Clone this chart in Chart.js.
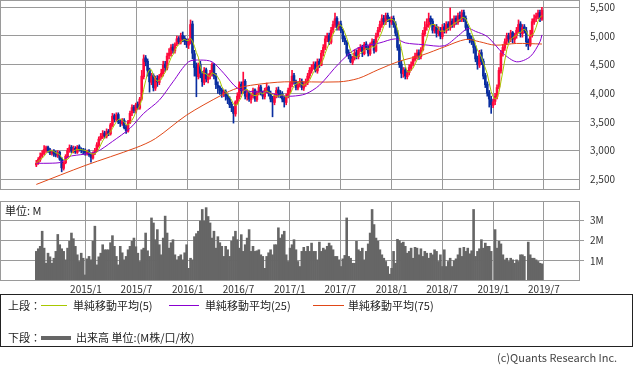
<!DOCTYPE html>
<html>
<head>
<meta charset="utf-8">
<script src="https://cdn.jsdelivr.net/npm/chart.js@4.4.1/dist/chart.umd.min.js"></script>
<style>
  body { margin: 0; width: 633px; height: 370px; background: #fff; position: relative; overflow: hidden;
         font-family: "Noto Sans CJK JP", sans-serif; color: #222; }
  #priceCanvas { position: absolute; left: 0; top: 0; }
  #volCanvas { position: absolute; left: 0; top: 199px; }
  .unit { position: absolute; left: 5px; top: 202px; font-size: 11px; }
  .legend { position: absolute; left: 0; top: 294px; width: 631px; height: 51px; border: 1px solid #222; font-size: 11px; }
  .legend span { position: absolute; white-space: nowrap; }
  .legend .ln { position: absolute; display: block; height: 0; border-top: 1px solid; }
  .copy { position: absolute; left: 497px; top: 349px; font-size: 11px; color: #444; }
</style>
</head>
<body>
<canvas id="priceCanvas" width="633" height="192"></canvas>
<canvas id="volCanvas" width="633" height="96"></canvas>
<div class="unit">単位: M</div>
<div class="legend">
  <span style="left:7px;top:2px">上段：</span>
  <div class="ln" style="left:40px;top:10px;width:26px;border-color:#a8c800"></div>
  <span style="left:72px;top:2px">単純移動平均(5)</span>
  <div class="ln" style="left:168px;top:10px;width:30px;border-color:#8a00d0"></div>
  <span style="left:204px;top:2px">単純移動平均(25)</span>
  <div class="ln" style="left:312px;top:10px;width:31px;border-color:#e04818"></div>
  <span style="left:347px;top:2px">単純移動平均(75)</span>
  <span style="left:7px;top:34px">下段：</span>
  <div class="ln" style="left:40px;top:41px;width:30px;border-top:4px solid #666"></div>
  <span style="left:75px;top:34px">出来高 単位:(M株/口/枚)</span>
</div>
<div class="copy">(c)Quants Research Inc.</div>
<script>
// weekly bars, week 0 = 2014/7/7
const startDate = Date.UTC(2014, 6, 7);
const tickLabels = ['2015/1','2015/7','2016/1','2016/7','2017/1','2017/7','2018/1','2018/7','2019/1','2019/7'];
const priceTicks = [2500, 3000, 3500, 4000, 4500, 5000, 5500];
const volTicks = [1, 2, 3];

const opens = [
  2750,2790,2840,2910,2950,3010,3060,3010,2950,2990, 2950,2910,2970,2860,2690,2790,2890,3000,3060,2980,
  3040,2970,3070,3010,3010,2990,2950,2990,2930,2870, 2960,3000,3090,3210,3240,3310,3250,3340,3290,3440,
  3610,3540,3630,3490,3470,3530,3410,3340,3490,3660, 3760,3690,3810,3740,3910,4290,4620,4560,4410,4190,
  4310,4090,4260,4190,4310,4340,4510,4440,4660,4690, 4810,4740,4860,4960,4890,5010,4960,4910,4840,4890,
  5210,4690,4460,4290,4510,4340,4190,4410,4240,4310, 4340,4510,4310,4140,4110,4060,3990,4030,3960,3910,
  3810,3740,3640,3860,3940,4160,4040,4210,3940,4010, 3890,3960,4060,3890,4010,4110,3990,3940,4060,4110,
  3990,3910,3840,3960,4060,3990,3990,3910,3840,3960, 4040,4160,4310,4190,4090,4160,4210,4090,4160,4190,
  4310,4390,4460,4510,4390,4560,4490,4710,4790,4960, 5010,4890,5110,5190,5310,5140,5210,5090,4960,4890,
  4710,4640,4540,4610,4710,4640,4760,4810,4690,4860, 4790,4690,4860,4910,4740,5010,5110,5190,5310,5240,
  5360,5290,5240,5310,5210,5040,4810,4510,4340,4410, 4290,4360,4440,4510,4590,4660,4710,4640,4760,5040,
  5160,5190,5310,5260,5090,5160,5040,5110,4990,5160, 5090,5210,5140,5260,5190,5310,5240,5360,5290,5410,
  5310,5160,5010,4940,4910,4790,4610,4490,4710,4560, 4310,4160,4010,3890,3790,3860,3940,4110,4390,4710,
  4790,4910,5010,4940,5060,4940,5010,5090,5210,5040, 5160,5090,4910,4840,5010,5240,5310,5340,5410,5290
];
const closes = [
  2780,2850,2900,2950,3020,3050,3000,2960,2980,2940, 2920,2960,2850,2700,2780,2900,3000,3050,2990,3030,
  2980,3060,3020,3000,2990,2960,2980,2930,2880,2950, 3000,3100,3200,3250,3300,3260,3330,3300,3450,3600,
  3550,3620,3500,3480,3520,3400,3350,3500,3650,3750, 3700,3800,3750,3900,4300,4600,4550,4400,4200,4300,
  4100,4250,4200,4300,4350,4500,4450,4650,4700,4800, 4750,4850,4950,4900,5000,4950,4900,4850,4900,5200,
  4700,4450,4300,4500,4350,4200,4400,4250,4300,4350, 4500,4300,4150,4100,4050,4000,4020,3950,3900,3800,
  3750,3650,3850,3950,4150,4050,4200,3950,4000,3900, 3950,4050,3900,4000,4100,4000,3950,4050,4100,4000,
  3900,3850,3950,4050,4000,3980,3900,3850,3950,4050, 4150,4300,4200,4100,4150,4200,4100,4150,4200,4300,
  4400,4450,4500,4400,4550,4500,4700,4800,4950,5000, 4900,5100,5200,5300,5150,5200,5100,4950,4900,4700,
  4650,4550,4600,4700,4650,4750,4800,4700,4850,4800, 4700,4850,4900,4750,5000,5100,5200,5300,5250,5350,
  5300,5250,5300,5200,5050,4800,4500,4350,4400,4300, 4350,4450,4500,4600,4650,4700,4650,4750,5050,5150,
  5200,5300,5250,5100,5150,5050,5100,5000,5150,5100, 5200,5150,5250,5200,5300,5250,5350,5300,5400,5300,
  5150,5000,4950,4900,4800,4600,4500,4700,4550,4300, 4150,4000,3900,3800,3850,3950,4100,4400,4700,4800,
  4900,5000,4950,5050,4950,5000,5100,5200,5050,5150, 5100,4900,4850,5000,5250,5300,5350,5400,5300,5450
];
const highs = [
  2830,2880,2960,3000,3090,3080,3080,3040,3010,3020, 2990,3000,2990,2880,2810,2930,3040,3100,3090,3080,
  3070,3090,3100,3050,3040,3030,3010,3020,2960,2980, 3040,3140,3240,3300,3350,3340,3380,3370,3480,3650,
  3640,3660,3660,3540,3560,3560,3440,3530,3690,3800, 3790,3830,3850,3930,4400,4670,4660,4600,4440,4350,
  4340,4300,4310,4330,4420,4560,4560,4700,4780,4850, 4860,4880,5000,4990,5050,5070,5000,4950,4950,5280,
  5260,4750,4530,4530,4560,4380,4450,4440,4340,4400, 4530,4520,4350,4200,4130,4090,4060,4060,3990,3940,
  3850,3770,3870,4010,4200,4200,4370,4240,4060,4040, 3990,4090,4080,4040,4140,4140,4040,4090,4180,4130,
  4040,3950,3990,4100,4110,4050,4030,3950,3990,4090, 4200,4400,4350,4230,4200,4260,4250,4200,4250,4350,
  4450,4500,4550,4550,4600,4600,4750,4850,5000,5050, 5050,5150,5260,5400,5340,5250,5260,5120,5000,4920,
  4760,4680,4650,4760,4760,4800,4850,4840,4890,4900, 4830,4880,4950,4940,5050,5150,5260,5370,5360,5400,
  5400,5330,5340,5350,5250,5100,4850,4560,4450,4450, 4400,4500,4550,4640,4700,4760,4760,4800,5100,5250,
  5300,5400,5350,5300,5200,5200,5160,5150,5200,5220, 5250,5250,5490,5300,5350,5350,5400,5420,5450,5450,
  5350,5200,5050,5000,4950,4830,4650,4750,4760,4600, 4350,4200,4050,3950,3900,4000,4150,4450,4750,4850,
  4950,5050,5050,5100,5080,5050,5150,5280,5250,5200, 5200,5150,4950,5100,5300,5370,5400,5450,5450,5500
];
const lows = [
  2720,2760,2810,2880,2930,2970,2970,2930,2920,2900, 2890,2880,2830,2630,2660,2770,2870,2970,2960,2960,
  2950,2950,2990,2960,2940,2920,2920,2900,2800,2850, 2930,2980,3060,3180,3210,3220,3220,3260,3270,3420,
  3500,3510,3470,3420,3440,3380,3300,3320,3470,3610, 3660,3660,3720,3720,3880,4250,4480,4300,4020,4150,
  4040,4050,4120,4150,4280,4300,4380,4410,4600,4650, 4700,4700,4830,4860,4860,4900,4850,4800,4780,4860,
  4600,4300,3940,4250,4270,4120,4150,4200,4180,4250, 4300,4250,4080,4000,3980,3930,3940,3880,3820,3750,
  3680,3480,3600,3820,3900,3990,4000,3900,3880,3860, 3830,3920,3860,3860,3970,3970,3900,3900,4010,3950,
  3850,3590,3800,3920,3930,3920,3850,3760,3800,3920, 4000,4110,4160,4060,4060,4110,4060,4050,4120,4150,
  4260,4350,4420,4370,4350,4450,4480,4650,4760,4900, 4850,4860,5050,5150,5100,5100,5060,4900,4850,4650,
  4600,4530,4500,4580,4600,4600,4730,4640,4670,4760, 4650,4660,4820,4700,4720,4980,5070,5150,5200,5200,
  5250,5150,5200,5150,5000,4750,4450,4270,4280,4250, 4250,4320,4400,4480,4560,4600,4590,4600,4740,5000,
  5100,5150,5200,5050,5050,4980,5000,4950,4950,5050, 5050,5100,5100,5150,5150,5200,5200,5250,5250,5250,
  5100,4950,4880,4850,4700,4550,4420,4450,4500,4250, 4100,3950,3760,3650,3750,3800,3900,4080,4350,4650,
  4750,4850,4880,4900,4880,4880,4960,5050,4980,4980, 5050,4820,4760,4820,4980,5200,5250,5300,5250,5270
];
// volume, millions
const volumes = [
  1.47,1.6,1.72,2.47,1.63,0.88,1.38,1.2,0.88,1.13, 1.47,2.31,1.8,1.6,1.47,1.05,1.63,1.97,2.38,2.1,
  1.72,1.3,0.97,1.38,1.13,0.3,1.1,1.22,1.05,1.97, 2.72,0.8,1.2,1.38,1.8,1.55,1.55,1.55,1.9,2.25,
  1.72,1.22,0.8,1.72,1.4,1.05,1.22,1.55,1.72,1.97, 2.13,1.7,1.38,0.97,1.55,1.63,2.38,1.5,1.22,3.13,
  2.88,2.05,2.55,1.8,1.3,2.13,3.22,2.38,1.63,1.9, 2.05,1.3,1.05,1.22,1.3,1.05,1.4,1.8,0.63,1.13,
  1.05,2.2,2.35,2.47,2.97,3.55,2.97,3.64,3.2,2.88, 2.13,2.47,1.63,2.2,1.9,1.72,1.22,1.72,1.55,1.22,
  1.97,2.2,2.47,2.05,1.63,2.3,1.47,1.8,2.13,2.55, 1.47,1.72,1.47,1.5,1.55,1.3,1.22,0.63,1.22,1.4,
  1.55,1.3,1.8,1.8,2.64,2.13,2.3,2.47,1.3,0.97, 1.63,1.8,2.05,1.55,0.97,0.72,1.47,1.67,1.47,1.72,
  1.47,1.88,1.47,1.47,1.05,1.93,1.47,1.63,1.55,1.72, 1.88,1.75,1.55,1.22,1.22,1.05,0.72,1.1,1.27,3.13,
  1.22,1.13,0.88,0.88,1.97,1.55,1.47,1.63,1.05,1.47, 1.84,2.38,3.55,2.8,2.13,1.97,1.55,1.3,1.13,0.97,
  0.72,0.34,0.63,1.47,0.88,2.07,2.0,1.88,1.93,1.72, 1.38,1.47,1.63,1.13,1.67,1.63,1.3,1.6,1.22,1.47,
  1.38,1.13,1.38,1.3,1.55,1.47,0.97,1.3,0.72,1.55, 0.72,0.97,1.13,0.72,1.0,1.1,1.3,1.63,1.22,1.67,
  1.47,1.63,1.35,1.5,3.55,1.22,1.47,1.6,2.05,1.63, 1.88,1.72,1.72,1.47,0,2.55,1.63,1.97,1.84,1.3,
  1.05,1.13,0.97,1.13,1.05,0.88,1.05,0.97,1.3,1.3, 1.22,0,1.93,1.3,1.13,1.13,1.05,0.97,0.88,0.85
];
// 25 and 75 week averages
const ma25Weeks = [0,7,13,16,25,31,39,48,55,63,70,78,84,90,96,103,110,118,125,131,138,145,155,164,176,184,189,198,209,216,221,225,231,239,246,253,258,259];
const ma25 = [2780,2780,2800,2890,2940,2980,3160,3390,3650,3880,4200,4550,4580,4550,4350,4090,4030,4020,3960,3950,3990,4140,4520,4780,4880,4950,4880,4850,4830,5000,5130,5080,4990,4700,4550,4640,4900,5020];
const ma75Weeks = [0,25,51,61,77,95,103,112,127,155,165,175,186,198,209,220,227,235,246,259];
const ma75 = [2410,2740,3050,3210,3620,3970,4090,4150,4200,4200,4260,4410,4560,4670,4810,4940,4900,4840,4870,4860];

const weekOf = label => {
  const [y, m] = label.split('/').map(Number);
  return (Date.UTC(y, m - 1, 1) - startDate) / (7 * 864e5);
};
const tickWeeks = tickLabels.map(weekOf);
const upColor = '#ff0a3c', downColor = '#0a2ea0';
const candleColors = closes.map((c, i) => c >= opens[i] ? upColor : downColor);
const ma5 = closes.map((c, i) => {
  const part = closes.slice(Math.max(0, i - 4), i + 1);
  return part.reduce((a, b) => a + b, 0) / part.length;
});

const gridColor = '#9a9a9a';
const font = { family: '"Noto Sans CJK JP", sans-serif', size: 10 };

// label overhang should not shrink the plot
const noOverhang = s => { s.paddingTop = 0; s.paddingBottom = 0; s.paddingLeft = 0; s.paddingRight = 0; };

// box round the plot area
const frame = {
  id: 'frame',
  afterDraw(chart) {
    const a = chart.chartArea, ctx = chart.ctx;
    ctx.save();
    ctx.strokeStyle = gridColor;
    ctx.lineWidth = 1;
    ctx.strokeRect(Math.round(a.left) + 0.5, Math.round(a.top) + 0.5, Math.round(a.right - a.left) - 1, Math.round(a.bottom - a.top) - 1);
    ctx.restore();
  }
};

function xAxis(showLabels, height) {
  return {
    type: 'linear', min: -18.6, max: 278.5, offset: false,
    afterBuildTicks: s => { s.ticks = tickWeeks.map(v => ({ value: v })); },
    afterFit: s => { s.height = height; noOverhang(s); },
    ticks: { display: showLabels, autoSkip: false, maxRotation: 0, padding: 2, color: '#333', font,
             callback: (v, i) => tickLabels[i] },
    grid: { color: gridColor, drawTicks: false, offset: false },
    border: { display: false }
  };
}

Chart.defaults.animation = false;
Chart.defaults.plugins.legend.display = false;
Chart.defaults.plugins.tooltip.enabled = false;

new Chart(document.getElementById('priceCanvas'), {
  data: {
    datasets: [
      { type: 'line', label: '単純移動平均(5)', data: ma5.map((v, i) => ({ x: i, y: v })),
        borderColor: '#a8c800', borderWidth: 1, pointRadius: 0, order: 0 },
      { type: 'line', label: '単純移動平均(25)', data: ma25Weeks.map((w, k) => ({ x: w, y: ma25[k] })),
        borderColor: '#8a00d0', borderWidth: 1, pointRadius: 0, tension: 0.3, order: 0 },
      { type: 'line', label: '単純移動平均(75)', data: ma75Weeks.map((w, k) => ({ x: w, y: ma75[k] })),
        borderColor: '#e04818', borderWidth: 1, pointRadius: 0, tension: 0.3, order: 0 },
      { type: 'bar', label: 'body', data: opens.map((o, i) => ({ x: i, y: [o, closes[i]] })),
        backgroundColor: candleColors, barPercentage: 1, categoryPercentage: 1, grouped: false, minBarLength: 1, order: 1 },
      { type: 'bar', label: 'wick', data: lows.map((l, i) => ({ x: i, y: [l, highs[i]] })),
        backgroundColor: candleColors, barThickness: 1, grouped: false, order: 2 }
    ]
  },
  options: {
    responsive: false,
    layout: { padding: { top: 0, bottom: 2, left: 0, right: 0 } },
    scales: {
      x: xAxis(false, 0),
      y: {
        position: 'right', min: 2313, max: 5628,
        afterBuildTicks: s => { s.ticks = priceTicks.map(v => ({ value: v })); },
        afterFit: s => { s.width = 53; noOverhang(s); },
        ticks: { padding: 10, color: '#333', font, callback: v => v.toLocaleString('en-US') },
        grid: { color: gridColor, drawTicks: false },
        border: { display: false }
      }
    }
  },
  plugins: [frame]
});

new Chart(document.getElementById('volCanvas'), {
  type: 'bar',
  data: {
    datasets: [{
      label: '出来高', data: volumes.map((v, i) => ({ x: i, y: v })),
      backgroundColor: '#666666', barPercentage: 1, categoryPercentage: 1
    }]
  },
  options: {
    responsive: false,
    layout: { padding: { top: 2, bottom: 0, left: 0, right: 0 } },
    scales: {
      x: xAxis(true, 14),
      y: {
        position: 'right', min: 0, max: 3.97,
        afterBuildTicks: s => { s.ticks = volTicks.map(v => ({ value: v })); },
        afterFit: s => { s.width = 53; noOverhang(s); },
        ticks: { padding: 6, color: '#333', font, callback: v => v + 'M' },
        grid: { color: gridColor, tickLength: 4 },
        border: { display: false }
      }
    }
  },
  plugins: [frame]
});
</script>
</body>
</html>
